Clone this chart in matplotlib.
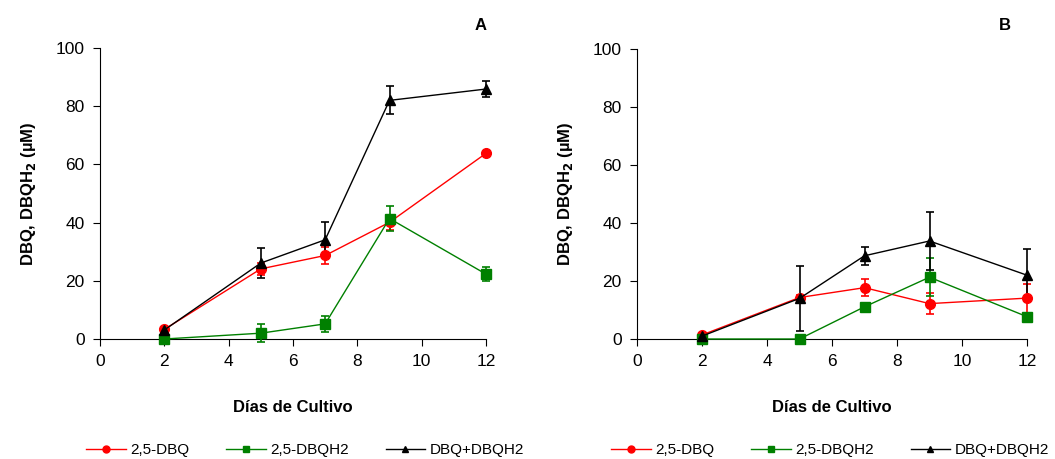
import matplotlib.pyplot as plt
from matplotlib.lines import Line2D
import numpy as np

plt.rcParams['font.family'] = ['Liberation Sans', 'DejaVu Sans']

dias = [2, 5, 7, 9, 12]

# panel A
dbq_a = [3.3, 24.1, 28.7, 40.1, 63.8]
dbq_a_err = [0.5, 2.0, 3.0, 2.5, 0.5]
dbqh2_a = [0.0, 2.0, 5.2, 41.4, 22.3]
dbqh2_a_err = [0.3, 3.0, 2.8, 4.2, 2.5]
tot_a = [3.1, 26.1, 34.1, 82.0, 85.9]
tot_a_err = [0.5, 5.0, 6.0, 4.8, 2.7]

# panel B
dbq_b = [1.4, 14.3, 17.7, 12.2, 14.1]
dbq_b_err = [0.5, 1.0, 3.0, 3.5, 5.0]
dbqh2_b = [0.0, 0.0, 11.1, 21.3, 7.7]
dbqh2_b_err = [0.2, 0.2, 0.8, 6.5, 1.0]
tot_b = [1.0, 14.0, 28.7, 33.8, 22.0]
tot_b_err = [0.5, 11.2, 3.1, 10.1, 8.9]

labels = ['2,5-DBQ', '2,5-DBQH2', 'DBQ+DBQH2']

fig = plt.figure(figsize=(10.55, 4.59), dpi=100)
ax_a = fig.add_axes([100/1055, 1-339/459, 386/1055, 291/459])
ax_b = fig.add_axes([637/1055, 1-339/459, 390/1055, 290/459])

panels = [
    (ax_a, 'A', [(dbq_a, dbq_a_err), (dbqh2_a, dbqh2_a_err), (tot_a, tot_a_err)], 481, 305),
    (ax_b, 'B', [(dbq_b, dbq_b_err), (dbqh2_b, dbqh2_b_err), (tot_b, tot_b_err)], 1005, 830),
]
styles = [('#ff0000', 'o', 7), ('#008000', 's', 7), ('#000000', '^', 7)]

for ax, letra, series, lx, legx in panels:
    for (y, e), (c, m, ms), lab in zip(series, styles, labels):
        ax.errorbar(dias, y, yerr=e, color=c, marker=m, markersize=ms,
                    linewidth=1, elinewidth=1.2, capsize=3, capthick=1.2,
                    clip_on=False, zorder=3)
    ax.set_xlim(0, 12)
    ax.set_ylim(0, 100)
    ax.set_xticks(range(0, 13, 2))
    ax.set_yticks(range(0, 101, 20))
    ax.spines['top'].set_visible(False)
    ax.spines['right'].set_visible(False)
    ax.tick_params(direction='out', length=5, labelsize=12.5, pad=6)
    ax.set_xlabel('Días de Cultivo', fontsize=12, fontweight='bold', labelpad=22)
    ax.set_ylabel('DBQ, DBQH$_\\mathbf{2}$ (µM)', fontsize=12, fontweight='bold', labelpad=13)
    fig.text(lx/1055, 1-25/459, letra, fontsize=12, fontweight='bold', ha='center', va='center')
    handles = [Line2D([], [], color=c, marker=m, markersize=5, linewidth=1)
               for c, m, ms in styles]
    fig.legend(handles, labels, loc='center', bbox_to_anchor=(legx/1055, 1-450/459),
               ncol=3, frameon=False, fontsize=11, handlelength=2.6,
               columnspacing=2.4, handletextpad=0.3, borderpad=0.1)

fig.savefig('out.png', dpi=100)
